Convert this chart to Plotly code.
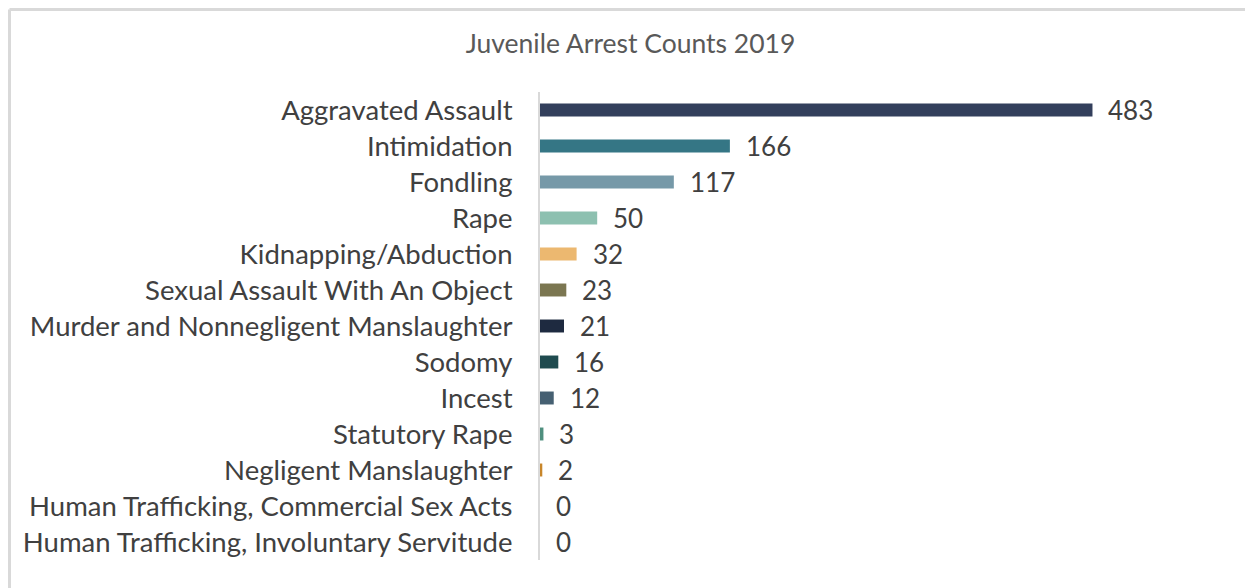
import plotly.graph_objects as go

categorias = ['Aggravated Assault', 'Intimidation', 'Fondling', 'Rape', 'Kidnapping/Abduction',
              'Sexual Assault With An Object', 'Murder and Nonnegligent Manslaughter', 'Sodomy',
              'Incest', 'Statutory Rape', 'Negligent Manslaughter',
              'Human Trafficking, Commercial Sex Acts', 'Human Trafficking, Involuntary Servitude']
contagens = [483, 166, 117, 50, 32, 23, 21, 16, 12, 3, 2, 0, 0]
cores = ['#333f5c', '#357685', '#7699a8', '#8dc0b0', '#ecb870', '#7b7651', '#1e2a40',
         '#1f4b4f', '#466072', '#4f8f7e', '#c8862a', '#cccccc', '#cccccc']

fonte = 'Lato'

fig = go.Figure()
fig.add_trace(go.Bar(x=contagens, y=categorias, orientation='h',
                     marker=dict(color=cores, line=dict(width=0)),
                     hoverinfo='x+y'))

# rótulos de valor à direita das barras
anotacoes = [dict(x=v, y=c, xref='x', yref='y', text=str(v), showarrow=False,
                  xanchor='left', xshift=14, font=dict(family=fonte, size=26, color='#404040'))
             for c, v in zip(categorias, contagens)]

# a página tem margem de 8px no body, por isso figura de 1245x580
fig.update_layout(
    width=1245, height=580,
    margin=dict(l=532, r=53, t=84, b=28),
    paper_bgcolor='white', plot_bgcolor='white',
    showlegend=False,
    bargap=0.64,
    title=dict(text='Juvenile Arrest Counts 2019', x=0.5, xanchor='center', xref='container',
               y=1 - 36 / 580, yanchor='middle',
               font=dict(family=fonte, size=26.5, color='#595959')),
    xaxis=dict(range=[0, 577], showgrid=False, zeroline=False, showticklabels=False,
               showline=False, fixedrange=True),
    yaxis=dict(autorange='reversed', showgrid=False, zeroline=False, showline=True,
               linecolor='#d9d9d9', linewidth=2, ticks='', ticklabelstandoff=20,
               tickfont=dict(family=fonte, size=27.5, color='#404040'), fixedrange=True),
    annotations=anotacoes,
    # moldura cinza (só topo e esquerda aparecem no recorte)
    shapes=[dict(type='line', xref='paper', yref='paper',
                 x0=(1.5 - 532) / 660, x1=(1.5 - 532) / 660,
                 y0=(552 - 620) / 468, y1=(552 - 1.5) / 468,
                 line=dict(color='#d9d9d9', width=3)),
            dict(type='line', xref='paper', yref='paper',
                 x0=(1.5 - 532) / 660, x1=(1300 - 532) / 660,
                 y0=(552 - 1.5) / 468, y1=(552 - 1.5) / 468,
                 line=dict(color='#d9d9d9', width=3))],
)

fig.write_html('out.html')
